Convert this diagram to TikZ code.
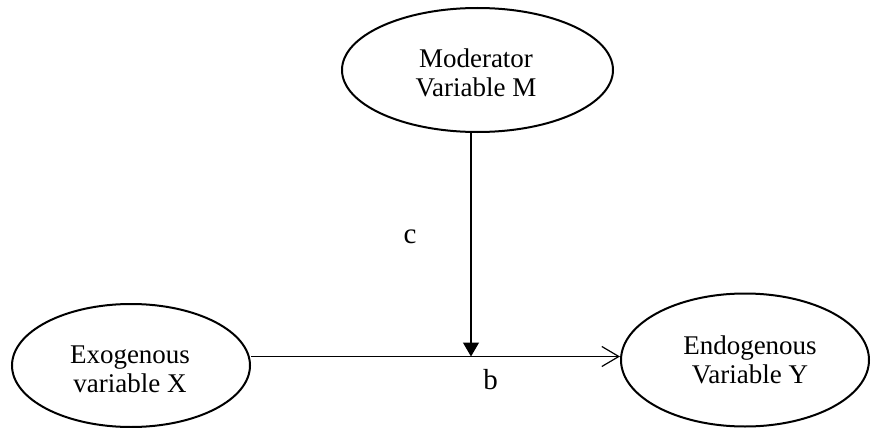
\documentclass[tikz,border=0pt]{standalone}
\usepackage{fontspec}
\setmainfont{Liberation Serif}
\usetikzlibrary{shapes.geometric,arrows.meta}
\begin{document}
\begin{tikzpicture}[x=1pt,y=-1pt,
  oval/.style={draw,ellipse,line width=2pt,inner sep=0pt},
  lbl/.style={inner sep=0pt,align=center,font=\fontsize{27}{29}\selectfont},
  coef/.style={inner sep=0pt,font=\fontsize{29}{33}\selectfont},
  conn/.style={line width=1.2pt}]
\useasboundingbox (0,0) rectangle (871,428);
% ellipses
\node[oval,minimum width=271pt,minimum height=124pt] (mod) at (477.5,70) {};
\node[oval,minimum width=238pt,minimum height=123pt] (exo) at (131,365.5) {};
\node[oval,minimum width=248pt,minimum height=133pt] (endo) at (745,360) {};
% texts
\node[lbl] (modt) at (476,73) {Moderator\\Variable M};
\node[lbl] (exot) at (130,369) {Exogenous\\variable X};
\node[lbl] (endot) at (750,360) {Endogenous\\Variable Y};
\node[coef] (c) at (410,237) {c};
\node[coef] (b) at (490.5,380) {b};
% connectors
\coordinate (j) at (471,356.5);
\draw[conn,-{Straight Barb[length=17pt,width=20pt,line width=1.2pt]}] (exo.east |- j) -- (endo.west |- j);
\draw[conn,-{Triangle[length=14pt,width=16pt]}] (j |- mod.south) -- (j);
\end{tikzpicture}
\end{document}
